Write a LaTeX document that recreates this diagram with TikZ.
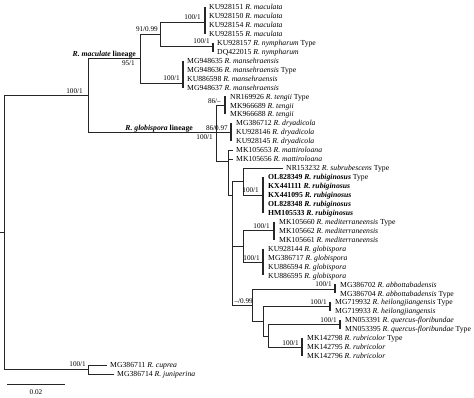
\documentclass[tikz,border=0pt]{standalone}
\usepackage{fontspec}
\setmainfont{Liberation Serif}
\begin{document}
\begin{tikzpicture}[x=1pt,y=-1pt,
  br/.style={line width=0.75pt, draw=black!85},
  bar/.style={line width=1.4pt, draw=black!85},
  leaf/.style={anchor=west, inner sep=0pt, text height=5.2pt, text depth=0pt, font=\fontsize{7.7}{9}\selectfont},
  supp/.style={anchor=south east, inner sep=0pt, text height=5.2pt, text depth=0pt, font=\fontsize{7.2}{9}\selectfont},
  suppb/.style={anchor=north east, inner sep=0pt, text height=5.2pt, text depth=0pt, font=\fontsize{7.2}{9}\selectfont},
  lin/.style={anchor=south east, inner sep=0pt, text height=5.2pt, text depth=0pt, font=\fontsize{7.7}{9}\selectfont\bfseries},
]
\useasboundingbox (0,0) rectangle (474,398);
% rows
\foreach \k in {1,...,42} {\coordinate (r\k) at (0,{7+(\k-1)*8.95});}
% internal nodes
\coordinate (Rs) at (0,232.4);
\coordinate (R) at (4,232.4);
\coordinate (I) at (88,95.4);
\coordinate (O) at (88,369.5);
\coordinate (M) at (140,58.5);
\coordinate (N) at (160,34);
\coordinate (Bmac) at (205,22);
\coordinate (Bnym) at (213,46);
\coordinate (Bman) at (183,83);
\coordinate (G) at (216,132.3);
\coordinate (Bten) at (225,105.45);
\coordinate (Bdry) at (231,132.3);
\coordinate (X1) at (228,161);
\coordinate (Mat1) at (233,150.2);
\coordinate (Mat2) at (233,159.15);
\coordinate (X2) at (232,195);
\coordinate (SR) at (243,181.5);
\coordinate (Sub) at (283,168.1);
\coordinate (Brub) at (263,194.95);
\coordinate (MG) at (243,246.4);
\coordinate (Bmed) at (274,230.75);
\coordinate (Bglo) at (263,262.1);
\coordinate (Q1) at (252,305.1);
\coordinate (Babb) at (335,288.9);
\coordinate (Q2) at (263,321.4);
\coordinate (Bhei) at (330,306.8);
\coordinate (Q3) at (268,335.9);
\coordinate (Bque) at (340,324.7);
\coordinate (Brbc) at (302,347.1);
\coordinate (Cup) at (107,365);
\coordinate (Jun) at (114,373.95);

% root
\draw[br] (Rs) -- (R);
\draw[br] (R |- I) -- (R |- O);
\draw[br] (R |- I) -- (I);
\draw[br] (R |- O) -- (O);
% outgroup
\draw[br] (O |- Cup) -- (O |- Jun);
\draw[br] (O |- Cup) -- (Cup);
\draw[br] (O |- Jun) -- (Jun);
% ingroup
\draw[br] (I |- M) -- (I |- G);
\draw[br] (I |- M) -- (M);
\draw[br] (I |- G) -- (G);
% maculata lineage
\draw[br] (M |- N) -- (M |- Bman);
\draw[br] (M |- N) -- (N);
\draw[br] (M |- Bman) -- (Bman);
\draw[br] (N |- Bmac) -- (N |- Bnym);
\draw[br] (N |- Bmac) -- (Bmac);
\draw[br] (N |- Bnym) -- (Bnym);
\draw[bar] (Bmac |- r1) -- (Bmac |- r4);
\draw[bar] (Bnym |- r5) -- (Bnym |- r6);
\draw[bar] (Bman |- r7) -- (Bman |- r10);
% globispora lineage
\draw[br] (G |- Bten) -- (G |- X1);
\draw[br] (G |- Bten) -- (Bten);
\draw[br] (G) -- (Bdry);
\draw[br] (G |- X1) -- (X1);
\draw[bar] (Bten |- r11) -- (Bten |- r13);
\draw[bar] (Bdry |- r14) -- (Bdry |- r16);
\draw[br] (X1 |- Mat1) -- (X1 |- X2);
\draw[br] (X1 |- Mat1) -- (Mat1);
\draw[br] (X1 |- Mat2) -- (Mat2);
\draw[br] (X1 |- X2) -- (X2);
\draw[br] (X2 |- SR) -- (X2 |- Q1);
\draw[br] (X2 |- SR) -- (SR);
\draw[br] (X2 |- MG) -- (MG);
\draw[br] (X2 |- Q1) -- (Q1);
\draw[br] (SR |- Sub) -- (SR |- Brub);
\draw[br] (SR |- Sub) -- (Sub);
\draw[br] (SR |- Brub) -- (Brub);
\draw[bar] (Brub |- r20) -- (Brub |- r24);
\draw[br] (MG |- Bmed) -- (MG |- Bglo);
\draw[br] (MG |- Bmed) -- (Bmed);
\draw[br] (MG |- Bglo) -- (Bglo);
\draw[bar] (Bmed |- r25) -- (Bmed |- r27);
\draw[bar] (Bglo |- r28) -- (Bglo |- r31);
\draw[br] (Q1 |- Babb) -- (Q1 |- Q2);
\draw[br] (Q1 |- Babb) -- (Babb);
\draw[br] (Q1 |- Q2) -- (Q2);
\draw[bar] (Babb |- r32) -- (Babb |- r33);
\draw[br] (Q2 |- Bhei) -- (Q2 |- Q3);
\draw[br] (Q2 |- Bhei) -- (Bhei);
\draw[br] (Q2 |- Q3) -- (Q3);
\draw[bar] (Bhei |- r34) -- (Bhei |- r35);
\draw[br] (Q3 |- Bque) -- (Q3 |- Brbc);
\draw[br] (Q3 |- Bque) -- (Bque);
\draw[br] (Q3 |- Brbc) -- (Brbc);
\draw[bar] (Bque |- r36) -- (Bque |- r37);
\draw[bar] (Brbc |- r38) -- (Brbc |- r40);

% leaves
\node[leaf] (l1) at (209,7.00) {KU928151 \textit{R. maculata}};
\node[leaf] (l2) at (209,15.95) {KU928150 \textit{R. maculata}};
\node[leaf] (l3) at (209,24.90) {KU928154 \textit{R. maculata}};
\node[leaf] (l4) at (209,33.85) {KU928155 \textit{R. maculata}};
\node[leaf] (l5) at (217,42.80) {KU928157 \textit{R. nympharum} Type};
\node[leaf] (l6) at (217,51.75) {DQ422015 \textit{R. nympharum}};
\node[leaf] (l7) at (187,60.70) {MG948635 \textit{R. mansehraensis}};
\node[leaf] (l8) at (187,69.65) {MG948636 \textit{R. mansehraensis} Type};
\node[leaf] (l9) at (187,78.60) {KU886598 \textit{R. mansehraensis}};
\node[leaf] (l10) at (187,87.55) {MG948637 \textit{R. mansehraensis}};
\node[leaf] (l11) at (230,96.50) {NR169926 \textit{R. tengii} Type};
\node[leaf] (l12) at (230,105.45) {MK966689 \textit{R. tengii}};
\node[leaf] (l13) at (230,114.40) {MK966688 \textit{R. tengii}};
\node[leaf] (l14) at (236,123.35) {MG386712 \textit{R. dryadicola}};
\node[leaf] (l15) at (236,132.30) {KU928146 \textit{R. dryadicola}};
\node[leaf] (l16) at (236,141.25) {KU928145 \textit{R. dryadicola}};
\node[leaf] (l17) at (236,150.20) {MK105653 \textit{R. mattiroloana}};
\node[leaf] (l18) at (236,159.15) {MK105656 \textit{R. mattiroloana}};
\node[leaf] (l19) at (286,168.10) {NR153232 \textit{R. subrubescens} Type};
\node[leaf] (l20) at (268,177.05) {\textbf{OL828349 \textit{R. rubiginosus}} Type};
\node[leaf] (l21) at (268,186.00) {\textbf{KX441111 \textit{R. rubiginosus}}};
\node[leaf] (l22) at (268,194.95) {\textbf{KX441095 \textit{R. rubiginosus}}};
\node[leaf] (l23) at (268,203.90) {\textbf{OL828348 \textit{R. rubiginosus}}};
\node[leaf] (l24) at (268,212.85) {\textbf{HM105533 \textit{R. rubiginosus}}};
\node[leaf] (l25) at (279,221.80) {MK105660 \textit{R. mediterraneensis} Type};
\node[leaf] (l26) at (279,230.75) {MK105662 \textit{R. mediterraneensis}};
\node[leaf] (l27) at (279,239.70) {MK105661 \textit{R. mediterraneensis}};
\node[leaf] (l28) at (268,248.65) {KU928144 \textit{R. globispora}};
\node[leaf] (l29) at (268,257.60) {MG386717 \textit{R. globispora}};
\node[leaf] (l30) at (268,266.55) {KU886594 \textit{R. globispora}};
\node[leaf] (l31) at (268,275.50) {KU886595 \textit{R. globispora}};
\node[leaf] (l32) at (340,284.45) {MG386702 \textit{R. abbottabadensis}};
\node[leaf] (l33) at (340,293.40) {MG386704 \textit{R. abbottabadensis} Type};
\node[leaf] (l34) at (335,302.35) {MG719932 \textit{R. heilongjiangensis} Type};
\node[leaf] (l35) at (335,311.30) {MG719933 \textit{R. heilongjiangensis}};
\node[leaf] (l36) at (345,320.25) {MN053391 \textit{R. quercus-floribundae}};
\node[leaf] (l37) at (345,329.20) {MN053395 \textit{R. quercus-floribundae} Type};
\node[leaf] (l38) at (307,338.15) {MK142798 \textit{R. rubricolor} Type};
\node[leaf] (l39) at (307,347.10) {MK142795 \textit{R. rubricolor}};
\node[leaf] (l40) at (307,356.05) {MK142796 \textit{R. rubricolor}};
\node[leaf] (l41) at (110,365.00) {MG386711 \textit{R. cuprea}};
\node[leaf] (l42) at (117,373.95) {MG386714 \textit{R. juniperina}};

% support values
\node[supp] (s1) at (83,93.5) {100/1};
\node[supp] (s2) at (86,367) {100/1};
\node[lin] (lm) at (136,56.5) {\textit{R. maculate} lineage};
\node[suppb] (s3) at (135,60.5) {95/1};
\node[supp] (s4) at (158,32) {91/0.99};
\node[supp] (s5) at (201,20) {100/1};
\node[supp] (s6) at (210,44) {100/1};
\node[supp] (s7) at (180,81) {100/1};
\node[supp] (s8) at (221,103.5) {86/--};
\node[lin] (lg) at (193,130.3) {\textit{R. globispora} lineage};
\node[supp] (s9) at (228,130.3) {86/0.97};
\node[suppb] (s10) at (213,134.5) {100/1};
\node[supp] (s11) at (259,193) {100/1};
\node[supp] (s12) at (270,229) {100/1};
\node[supp] (s13) at (260,260.3) {100/1};
\node[supp] (s14) at (253,303.3) {--/0.99};
\node[supp] (s15) at (332,287) {100/1};
\node[supp] (s16) at (327,305) {100/1};
\node[supp] (s17) at (337,323) {100/1};
\node[supp] (s18) at (299,345.3) {100/1};

% scale bar
\coordinate (sb1) at (7,384);
\coordinate (sb2) at (65,384);
\draw[br] (sb1) -- (sb2);
\node[leaf, anchor=center, font=\fontsize{7.2}{9}\selectfont] (sbl) at (36,392) {0.02};
\end{tikzpicture}
\end{document}
